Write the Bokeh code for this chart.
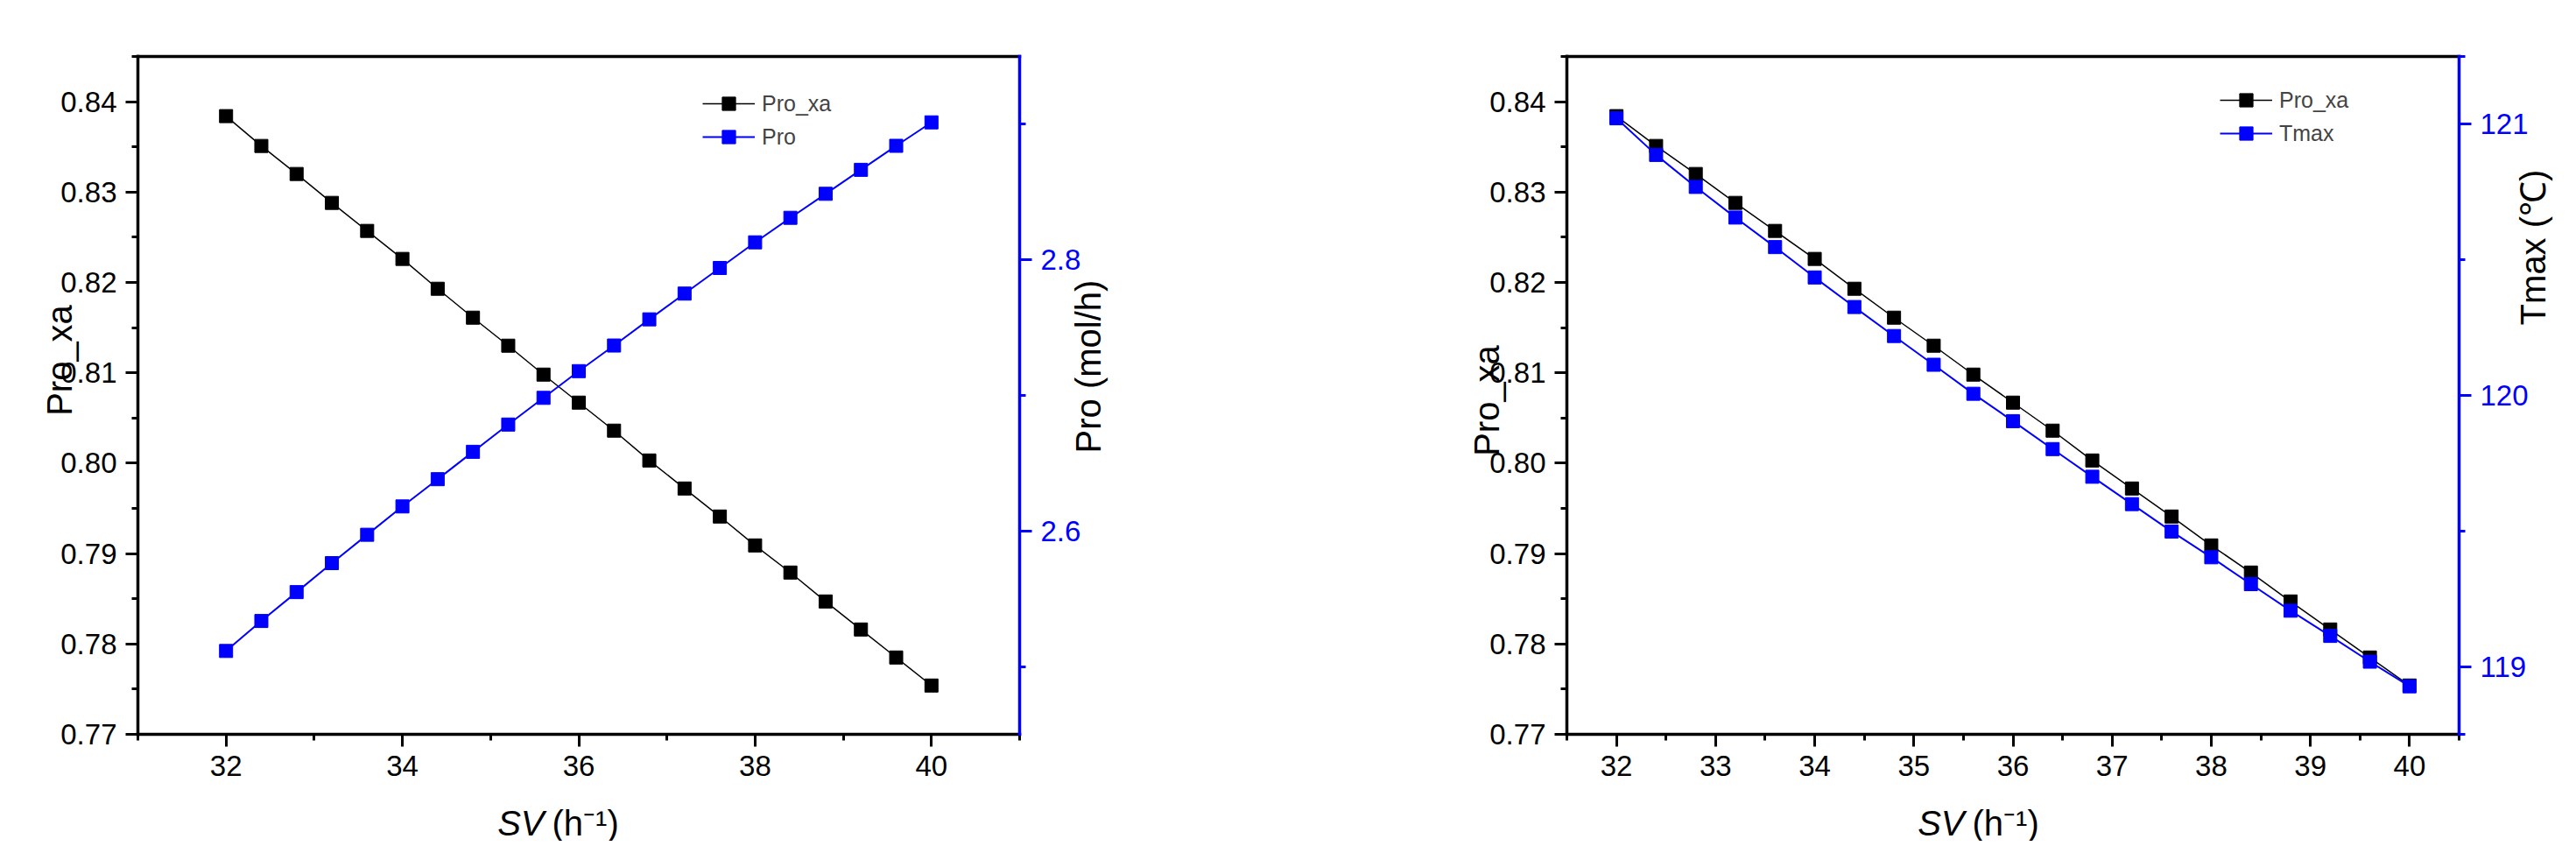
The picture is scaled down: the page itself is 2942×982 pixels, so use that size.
import math
from bokeh.plotting import figure
from bokeh.models import (LinearAxis, Range1d, FixedTicker, PrintfTickFormatter,
                          Legend, LegendItem, Label)
from bokeh.layouts import row
from bokeh.embed import file_html
from bokeh.resources import INLINE

# ---------------- data ----------------
sv = [32.0, 32.4, 32.8, 33.2, 33.6, 34.0, 34.4, 34.8, 35.2, 35.6, 36.0,
      36.4, 36.8, 37.2, 37.6, 38.0, 38.4, 38.8, 39.2, 39.6, 40.0]
pro_xa = [0.8384, 0.8351, 0.8320, 0.8288, 0.8257, 0.8226, 0.8193, 0.8161,
          0.8130, 0.8098, 0.8067, 0.8036, 0.8003, 0.7972, 0.7941, 0.7909,
          0.7879, 0.7847, 0.7816, 0.7785, 0.7754]
pro = [2.5115, 2.5336, 2.5549, 2.5763, 2.5972, 2.6181, 2.6382, 2.6584,
       2.6785, 2.6982, 2.7179, 2.7368, 2.7561, 2.7751, 2.7940, 2.8129,
       2.8310, 2.8487, 2.8664, 2.8841, 2.9014]
tmax = [121.022, 120.887, 120.769, 120.656, 120.547, 120.435, 120.326,
        120.219, 120.113, 120.006, 119.905, 119.802, 119.700, 119.599,
        119.498, 119.403, 119.304, 119.206, 119.113, 119.018, 118.927]

x1_lim = (31, 41)
x1_major = [32, 34, 36, 38, 40]
x1_minor = [31, 33, 35, 37, 39, 41]
x2_lim = (31.5, 40.5)
x2_major = [32, 33, 34, 35, 36, 37, 38, 39, 40]
x2_minor = [31.5, 32.5, 33.5, 34.5, 35.5, 36.5, 37.5, 38.5, 39.5, 40.5]
y_lim = (0.77, 0.845)
y_major = [0.77, 0.78, 0.79, 0.80, 0.81, 0.82, 0.83, 0.84]
y_minor = [0.775, 0.785, 0.795, 0.805, 0.815, 0.825, 0.835, 0.845]
pro_lim = (2.45, 2.95)
pro_major = [2.6, 2.8]
pro_minor = [2.5, 2.7, 2.9]
t_lim = (118.75, 121.25)
t_major = [119, 120, 121]
t_minor = [118.75, 119.5, 120.5, 121.25]

FONT = "Liberation Sans"
BLACK = "#000000"
BLUE = "#0000ff"
H = 960
BOX_TOP, BOX_BOTTOM = 64, 838   # canvas px of the axes box


def hspan(lim, p0, p1, total):
    """data range so that lim maps to canvas px p0..p1 of a canvas 'total' wide"""
    s = (p1 - p0) / (lim[1] - lim[0])
    return Range1d(lim[0] - p0 / s, lim[1] + (total - p1) / s)


def vspan(lim):
    s = (BOX_BOTTOM - BOX_TOP) / (lim[1] - lim[0])
    return Range1d(lim[0] - (H - BOX_BOTTOM) / s, lim[1] + BOX_TOP / s)


def style_axis(ax, color, show_labels=True):
    ax.axis_label = None
    ax.axis_line_color = color
    ax.axis_line_width = 3.5
    ax.axis_line_cap = "square"
    ax.major_tick_line_color = color
    ax.minor_tick_line_color = color
    ax.major_tick_line_width = 3
    ax.minor_tick_line_width = 3
    ax.major_tick_out = 14
    ax.major_tick_in = 0
    ax.minor_tick_out = 7
    ax.minor_tick_in = 0
    ax.major_label_text_font = FONT
    ax.major_label_text_font_size = "33px"
    ax.major_label_text_color = color
    ax.major_label_standoff = 10


def title_label(text, x, y, angle=0.0, align="center", style="normal", color=BLACK):
    return Label(x=x, y=y, x_units="screen", y_units="screen", text=text,
                 angle=angle, text_align=align, text_baseline="alphabetic",
                 text_font=FONT, text_font_size="40px", text_font_style=style,
                 text_color=color)


def build(width, x_lim, x_px, x_major, x_minor, y2_name, y2_lim, y2_major, y2_minor,
          y2_fmt, y2_values, y2_label, legend_label, legend_loc, titles):
    x0, x1 = x_px
    p = figure(width=width, height=H, x_range=hspan(x_lim, x0, x1, width),
               y_range=vspan(y_lim), output_backend="svg", toolbar_location=None,
               min_border_left=0, min_border_right=0, min_border_top=0,
               min_border_bottom=0)
    p.grid.visible = False
    p.outline_line_color = None
    p.background_fill_color = "white"
    p.border_fill_color = "white"

    xa = p.xaxis[0]
    xa.ticker = FixedTicker(ticks=x_major, minor_ticks=x_minor)
    xa.formatter = PrintfTickFormatter(format="%d")
    xa.fixed_location = y_lim[0]
    xa.bounds = x_lim
    style_axis(xa, BLACK)

    ya = p.yaxis[0]
    ya.ticker = FixedTicker(ticks=y_major, minor_ticks=y_minor)
    ya.formatter = PrintfTickFormatter(format="%.2f")
    ya.fixed_location = x_lim[0]
    ya.bounds = y_lim
    style_axis(ya, BLACK)

    top = LinearAxis(ticker=FixedTicker(ticks=[], minor_ticks=[]),
                     fixed_location=y_lim[1], bounds=x_lim)
    style_axis(top, BLACK)
    top.major_tick_out = 0
    top.minor_tick_out = 0
    top.major_label_text_color = None
    p.add_layout(top, "above")

    p.extra_y_ranges = {y2_name: vspan(y2_lim)}
    ra = LinearAxis(y_range_name=y2_name,
                    ticker=FixedTicker(ticks=y2_major, minor_ticks=y2_minor),
                    formatter=PrintfTickFormatter(format=y2_fmt),
                    fixed_location=x_lim[1], bounds=y2_lim)
    style_axis(ra, BLUE)
    p.add_layout(ra, "right")

    la = p.line(sv, pro_xa, line_color=BLACK, line_width=1.5)
    sa = p.scatter(sv, pro_xa, marker="square", size=15, fill_color=BLACK, line_color=BLACK)
    lb = p.line(sv, y2_values, y_range_name=y2_name, line_color=BLUE, line_width=2)
    sb = p.scatter(sv, y2_values, y_range_name=y2_name, marker="square", size=15,
                   fill_color=BLUE, line_color=BLUE)

    leg = Legend(items=[LegendItem(label="Pro_xa", renderers=[la, sa]),
                        LegendItem(label=legend_label, renderers=[lb, sb])],
                 location=legend_loc, glyph_width=60, glyph_height=38, spacing=-5,
                 padding=0, margin=0, border_line_color=None, background_fill_alpha=0,
                 label_text_font=FONT, label_text_font_size="25px", label_standoff=8)
    p.add_layout(leg)

    (lx, ly), (rx, ry), (sx, sy) = titles
    p.add_layout(title_label("Pro_xa", lx, ly, angle=math.pi / 2))
    p.add_layout(title_label(y2_label, rx, ry, angle=math.pi / 2))
    p.add_layout(title_label("SV", sx, sy, align="right", style="italic"))
    p.add_layout(title_label("(h\u207b\u00b9)", sx + 9, sy, align="left"))
    return p


W1, W2 = 1400, 1526
p1 = build(W1, x1_lim, (157, 1164), x1_major, x1_minor, "pro", pro_lim, pro_major,
           pro_minor, "%.1f", pro, "Pro (mol/h)", "Pro", (802, H - 175),
           [(67, H - 411), (1242, H - 418), (621, H - 939)])
p2 = build(W2, x2_lim, (1789 - W1, 2808 - W1), x2_major, x2_minor, "tmax", t_lim,
           t_major, t_minor, "%d", tmax, "Tmax (\u2103)", "Tmax",
           (2535 - W1, H - 171),
           [(1697 - W1, H - 457), (2892 - W1, H - 282), (2243 - W1, H - 939)])

layout = row(p1, p2)
open("out.html", "w").write(file_html(layout, INLINE))
